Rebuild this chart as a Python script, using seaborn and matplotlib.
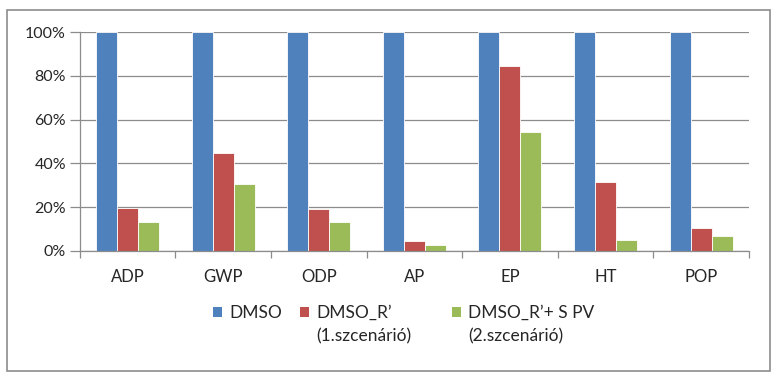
import numpy as np
import pandas as pd
import seaborn as sns
from matplotlib import pyplot as plt
from matplotlib.patches import Rectangle, Patch
from matplotlib.ticker import PercentFormatter, FixedLocator

categories = ["ADP", "GWP", "ODP", "AP", "EP", "HT", "POP"]
series = ["DMSO", "DMSO_R’\n(1.szcenárió)", "DMSO_R’+ S PV\n(2.szcenárió)"]
dmso = [1.00, 1.00, 1.00, 1.00, 1.00, 1.00, 1.00]
dmso_r = [0.198, 0.449, 0.192, 0.047, 0.846, 0.315, 0.105]
dmso_r_pv = [0.134, 0.307, 0.134, 0.027, 0.545, 0.052, 0.070]
colors = ["#4F81BD", "#C0504D", "#9BBB59"]

df = pd.DataFrame({
    "cat": categories * 3,
    "series": [series[0]] * 7 + [series[1]] * 7 + [series[2]] * 7,
    "val": dmso + dmso_r + dmso_r_pv,
})

sns.set_style("white")
plt.rcParams["font.family"] = ["Lato", "DejaVu Sans"]

fig = plt.figure(figsize=(7.76, 3.74), dpi=100)
ax = fig.add_axes([0.103, 0.329, 0.862, 0.585])

sns.barplot(data=df, x="cat", y="val", hue="series", palette=colors, legend=False,
            width=0.66, saturation=1, ax=ax, edgecolor="white", linewidth=0.6)

ax.set_ylim(0, 1)
ax.set_xlim(-0.5, 6.5)
ax.yaxis.set_major_locator(FixedLocator(np.arange(0, 1.01, 0.2)))
ax.yaxis.set_major_formatter(PercentFormatter(1.0, decimals=0))
ax.grid(axis="y", color="#8c8c8c", linewidth=0.9)
ax.set_axisbelow(True)
ax.set_xlabel("")
ax.set_ylabel("")
for s in ["top", "right"]:
    ax.spines[s].set_visible(False)
for s in ["left", "bottom"]:
    ax.spines[s].set_color("#8c8c8c")
    ax.spines[s].set_linewidth(0.9)

# tick marks between categories, labels at centres
ax.set_xticks(np.arange(-0.5, 7, 1), minor=False)
ax.set_xticklabels([])
ax.set_xticks(np.arange(7), minor=True)
ax.set_xticklabels(categories, minor=True, fontsize=12)
ax.tick_params(axis="x", which="major", direction="out", length=5, color="#8c8c8c", width=0.9)
ax.tick_params(axis="x", which="minor", length=0, pad=13)
ax.tick_params(axis="y", direction="out", length=7, color="#8c8c8c", width=0.9, labelsize=11.5, pad=3)
ax.yaxis.set_ticks_position("left")
ax.xaxis.set_ticks_position("bottom")

# legend: one block per series, placed like the original
leg_x = [213, 300, 452]
for name, col, x in zip(series, colors, leg_x):
    lines = name.split("\n")
    handles = [Patch(facecolor=col, edgecolor="none")]
    if len(lines) > 1:
        handles.append(Patch(facecolor="none", edgecolor="none"))
    fig.legend(handles, lines, loc="upper left", bbox_to_anchor=(x / 776, 1 - 305 / 374),
               frameon=False, fontsize=12.5, borderpad=0, borderaxespad=0,
               handlelength=0.5, handleheight=0.5, handletextpad=0.45, labelspacing=0.42)

fig.patches.append(Rectangle((7 / 776, 3 / 374), 763 / 776, 361 / 374, transform=fig.transFigure,
                             fill=False, edgecolor="#8c8c8c", linewidth=1.2))

fig.savefig("out.png", dpi=100)
